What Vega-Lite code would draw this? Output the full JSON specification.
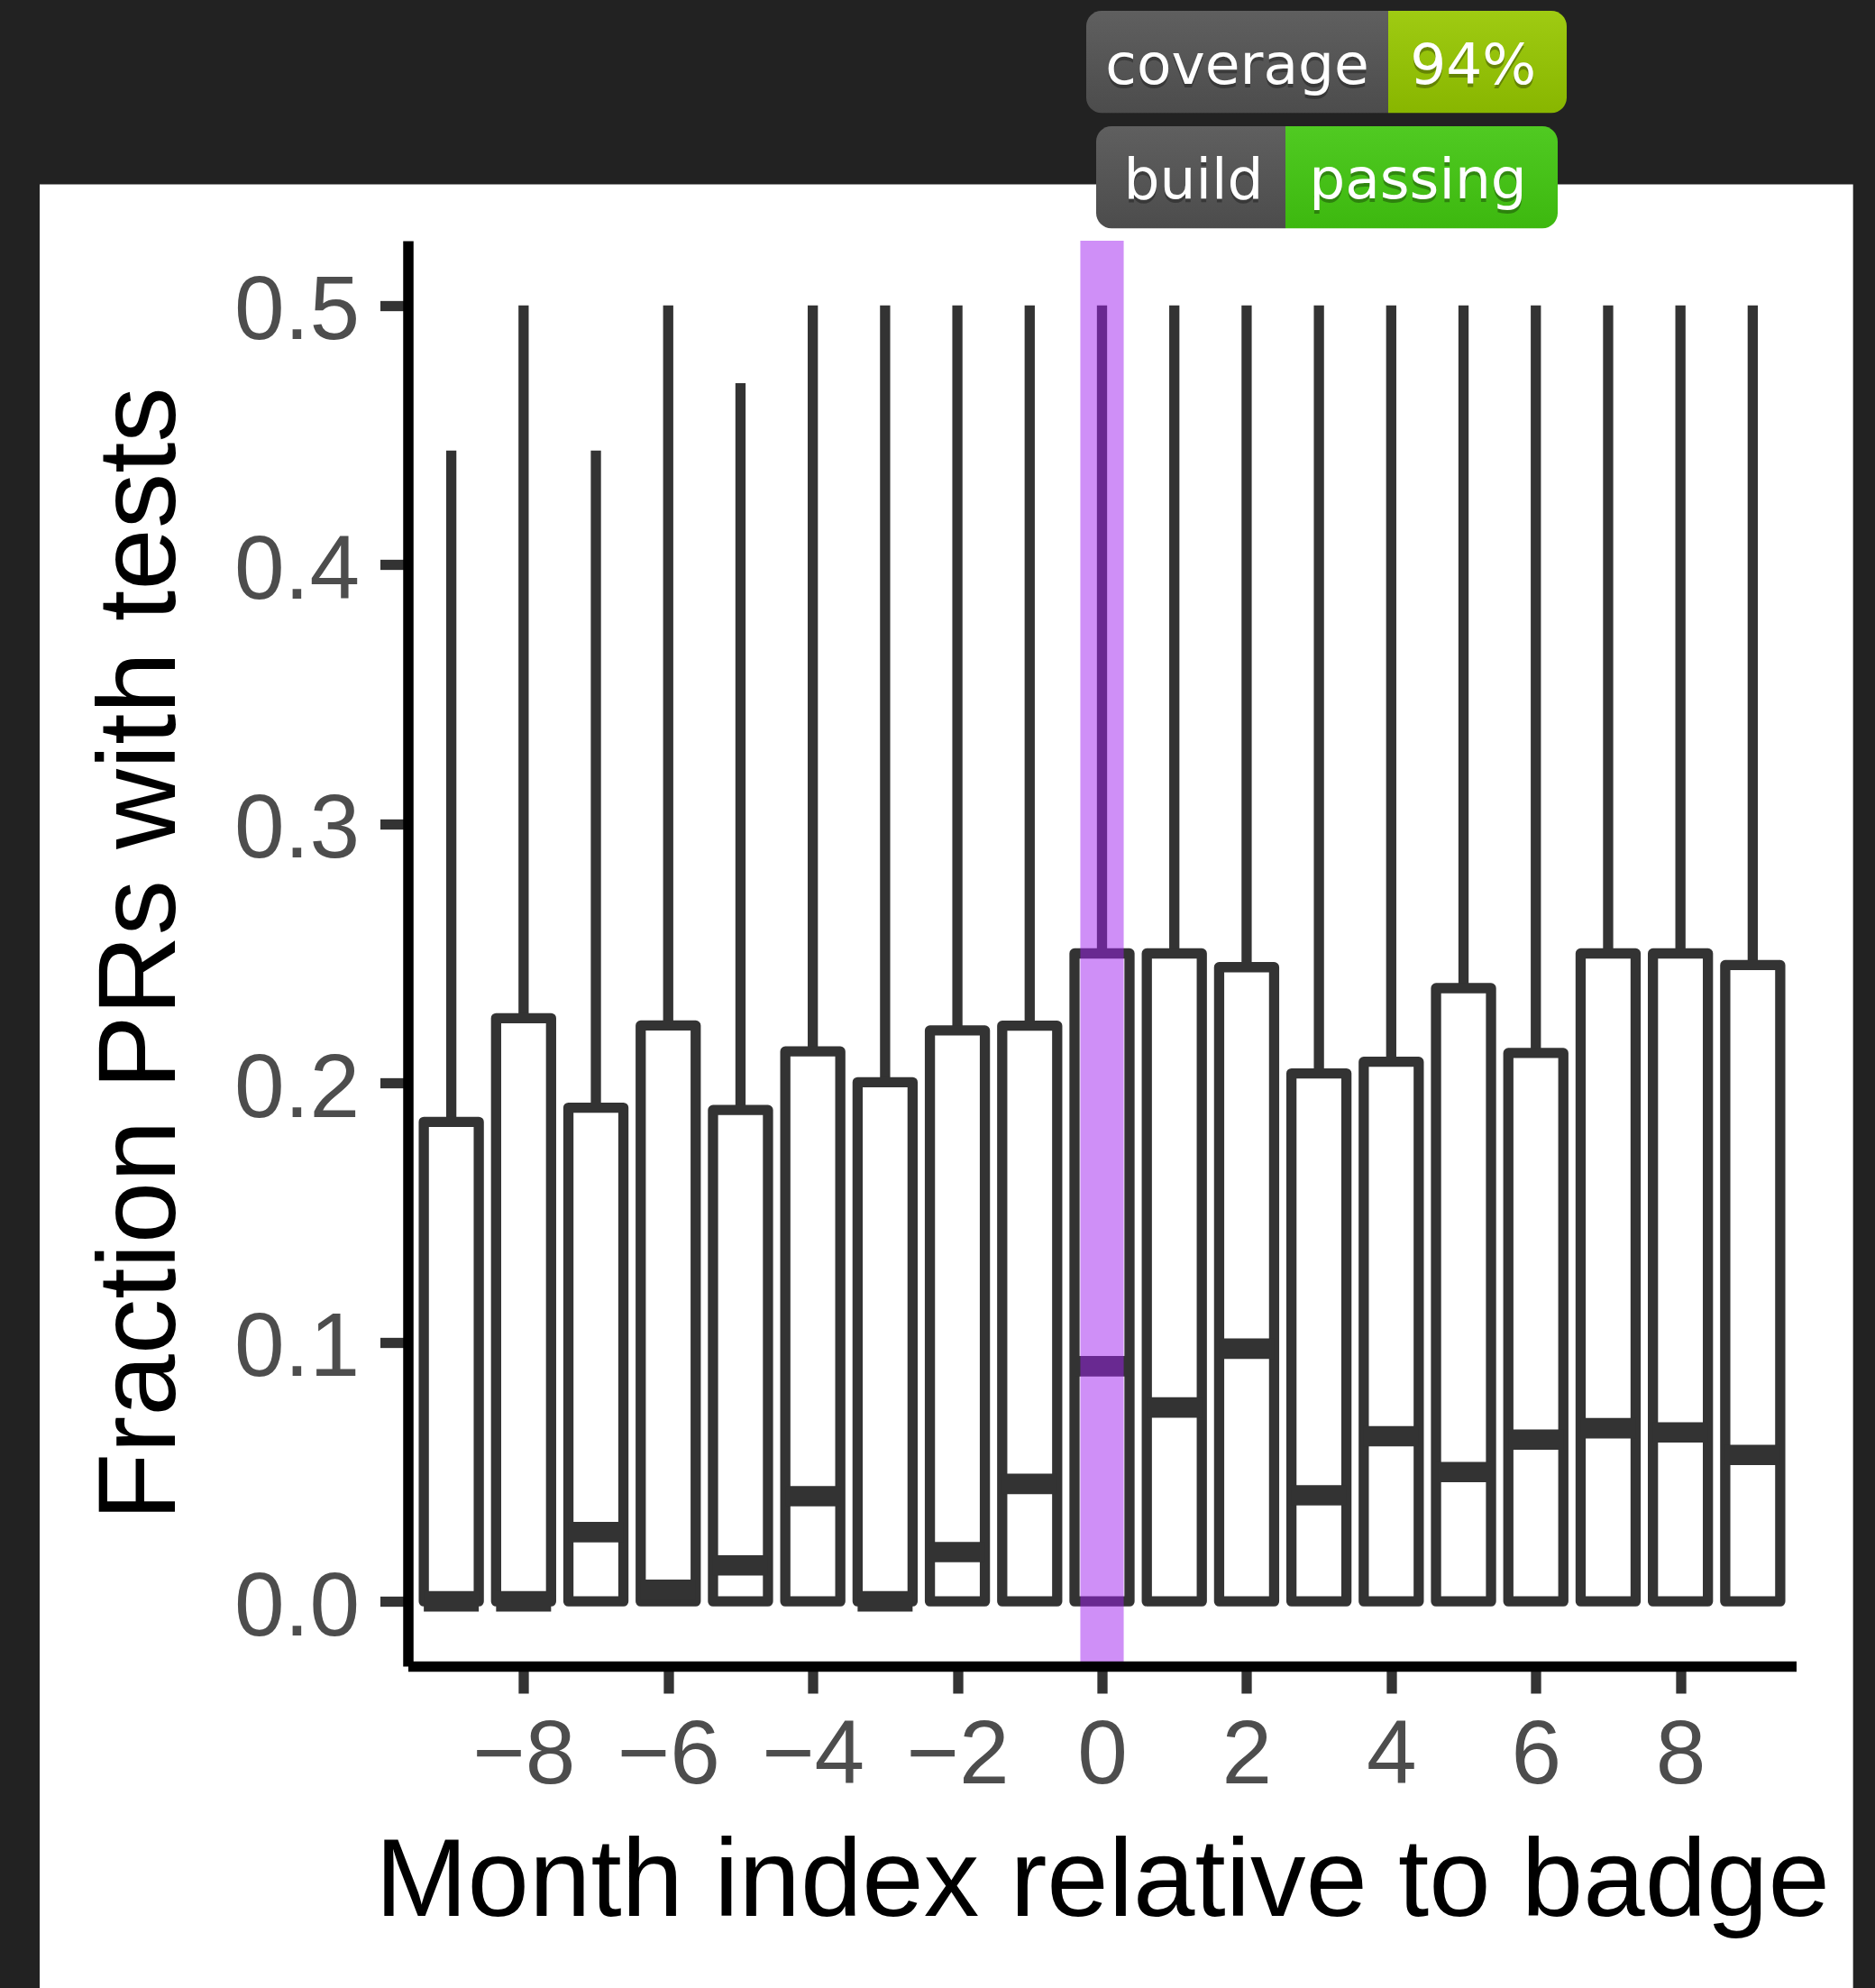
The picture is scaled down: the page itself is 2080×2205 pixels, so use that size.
{
  "$schema": "https://vega.github.io/schema/vega-lite/v6.json",
  "autosize": {"type": "none"},
  "width": 1540,
  "height": 1581,
  "padding": {"left": 452.5, "right": 87.5, "top": 267, "bottom": 357},
  "background": "#222222",
  "config": {"view": {"stroke": null}},
  "datasets": {
    "boxes": [
      {"month": -9, "lower": 0, "q1": 0, "median": 0, "q3": 0.185, "upper": 0.444},
      {"month": -8, "lower": 0, "q1": 0, "median": 0, "q3": 0.225, "upper": 0.5},
      {"month": -7, "lower": 0, "q1": 0, "median": 0.0267, "q3": 0.1905, "upper": 0.444},
      {"month": -6, "lower": 0, "q1": 0, "median": 0.0045, "q3": 0.2222, "upper": 0.5},
      {"month": -5, "lower": 0, "q1": 0, "median": 0.0139, "q3": 0.1896, "upper": 0.47},
      {"month": -4, "lower": 0, "q1": 0, "median": 0.0406, "q3": 0.2122, "upper": 0.5},
      {"month": -3, "lower": 0, "q1": 0, "median": 0, "q3": 0.2003, "upper": 0.5},
      {"month": -2, "lower": 0, "q1": 0, "median": 0.019, "q3": 0.2203, "upper": 0.5},
      {"month": -1, "lower": 0, "q1": 0, "median": 0.0453, "q3": 0.2221, "upper": 0.5},
      {"month": 0, "lower": 0, "q1": 0, "median": 0.0907, "q3": 0.25, "upper": 0.5},
      {"month": 1, "lower": 0, "q1": 0, "median": 0.0748, "q3": 0.25, "upper": 0.5},
      {"month": 2, "lower": 0, "q1": 0, "median": 0.0975, "q3": 0.2447, "upper": 0.5},
      {"month": 3, "lower": 0, "q1": 0, "median": 0.0409, "q3": 0.2037, "upper": 0.5},
      {"month": 4, "lower": 0, "q1": 0, "median": 0.0637, "q3": 0.2082, "upper": 0.5},
      {"month": 5, "lower": 0, "q1": 0, "median": 0.0499, "q3": 0.2366, "upper": 0.5},
      {"month": 6, "lower": 0, "q1": 0, "median": 0.0624, "q3": 0.2116, "upper": 0.5},
      {"month": 7, "lower": 0, "q1": 0, "median": 0.0668, "q3": 0.25, "upper": 0.5},
      {"month": 8, "lower": 0, "q1": 0, "median": 0.0652, "q3": 0.25, "upper": 0.5},
      {"month": 9, "lower": 0, "q1": 0, "median": 0.0565, "q3": 0.2455, "upper": 0.5}
    ],
    "one": [{}]
  },
  "layer": [
    {
      "data": {"name": "one"},
      "mark": {"type": "rect", "fill": "#FFFFFF", "opacity": 1},
      "encoding": {
        "x": {"datum": -14.693, "type": "quantitative", "scale": {"domain": [-9.6, 9.6], "nice": false, "zero": false, "padding": 0}, "title": "Month index relative to badge"},
        "x2": {"datum": 10.3875},
        "y": {"datum": 0.54673, "type": "quantitative", "scale": {"domain": [-0.025, 0.525], "nice": false, "zero": false, "padding": 0}, "title": "Fraction PRs with tests"},
        "y2": {"datum": -0.2}
      }
    },
    {
      "data": {"name": "boxes"},
      "mark": {"type": "rule", "stroke": "#333333", "strokeWidth": 11.3, "strokeCap": "butt"},
      "encoding": {
        "x": {"field": "month", "type": "quantitative", "scale": {"domain": [-9.6, 9.6], "nice": false, "zero": false, "padding": 0},
          "axis": {
            "title": "Month index relative to badge",
            "values": [-8, -6, -4, -2, 0, 2, 4, 6, 8],
            "format": "d",
            "grid": false,
            "domainColor": "#000000",
            "domainWidth": 11.5,
            "tickColor": "#333333",
            "tickWidth": 11.3,
            "tickSize": 30,
            "labelFont": "Liberation Sans",
            "labelFontSize": 100,
            "labelColor": "#4D4D4D",
            "labelPadding": 20,
            "labelFlush": false,
            "labelOverlap": false,
            "titleFont": "Liberation Sans",
            "titleFontSize": 123,
            "titleFontWeight": "normal",
            "titleColor": "#000000",
            "titlePadding": 30,
            "zindex": 1
          }},
        "y": {"field": "q3", "type": "quantitative", "scale": {"domain": [-0.025, 0.525], "nice": false, "zero": false, "padding": 0},
          "axis": {
            "title": "Fraction PRs with tests",
            "values": [0, 0.1, 0.2, 0.3, 0.4, 0.5],
            "format": ".1f",
            "grid": false,
            "domainColor": "#000000",
            "domainWidth": 11.5,
            "tickColor": "#333333",
            "tickWidth": 11.3,
            "tickSize": 31,
            "labelFont": "Liberation Sans",
            "labelFontSize": 100,
            "labelColor": "#4D4D4D",
            "labelPadding": 23,
            "labelOffset": 7,
            "labelFlush": false,
            "labelOverlap": false,
            "titleFont": "Liberation Sans",
            "titleFontSize": 123,
            "titleFontWeight": "normal",
            "titleColor": "#000000",
            "titlePadding": 40,
            "zindex": 1
          }},
        "y2": {"field": "upper"}
      }
    },
    {
      "data": {"name": "boxes"},
      "mark": {"type": "bar", "width": 61, "fill": "#FFFFFF", "stroke": "#333333", "strokeWidth": 11.3, "strokeJoin": "round", "opacity": 1},
      "encoding": {
        "x": {"field": "month", "type": "quantitative", "title": "Month index relative to badge"},
        "y": {"field": "q1", "type": "quantitative", "title": "Fraction PRs with tests"},
        "y2": {"field": "q3"}
      }
    },
    {
      "data": {"name": "boxes"},
      "mark": {"type": "tick", "orient": "horizontal", "size": 61, "thickness": 22.6, "color": "#333333", "opacity": 1},
      "encoding": {
        "x": {"field": "month", "type": "quantitative", "title": "Month index relative to badge"},
        "y": {"field": "median", "type": "quantitative", "title": "Fraction PRs with tests"}
      }
    },
    {
      "data": {"name": "one"},
      "mark": {"type": "rect", "fill": "#A020F0", "opacity": 0.5},
      "encoding": {
        "x": {"datum": -0.3, "type": "quantitative", "title": "Month index relative to badge"},
        "x2": {"datum": 0.3},
        "y": {"datum": 0.525, "type": "quantitative", "title": "Fraction PRs with tests"},
        "y2": {"datum": -0.025}
      }
    },
    {
      "data": {"name": "one"},
      "mark": {"type": "rect", "cornerRadiusTopLeft": 17, "cornerRadiusBottomLeft": 17, "opacity": 1,
        "fill": {"gradient": "linear", "x1": 0, "y1": 0, "x2": 0, "y2": 1, "stops": [{"offset": 0, "color": "#5F5F5F"}, {"offset": 1, "color": "#4C4C4C"}]}},
      "encoding": {
        "x": {"datum": -0.2182, "type": "quantitative", "title": "Month index relative to badge"},
        "x2": {"datum": 3.9584},
        "y": {"datum": 0.61371, "type": "quantitative", "title": "Fraction PRs with tests"},
        "y2": {"datum": 0.57429}
      }
    },
    {
      "data": {"name": "one"},
      "mark": {"type": "rect", "cornerRadiusTopRight": 17, "cornerRadiusBottomRight": 17, "opacity": 1,
        "fill": {"gradient": "linear", "x1": 0, "y1": 0, "x2": 0, "y2": 1, "stops": [{"offset": 0, "color": "#9FCB12"}, {"offset": 1, "color": "#88B600"}]}},
      "encoding": {
        "x": {"datum": 3.9584, "type": "quantitative", "title": "Month index relative to badge"},
        "x2": {"datum": 6.427},
        "y": {"datum": 0.61371, "type": "quantitative", "title": "Fraction PRs with tests"},
        "y2": {"datum": 0.57429}
      }
    },
    {
      "data": {"name": "one"},
      "mark": {"type": "rect", "cornerRadiusTopLeft": 17, "cornerRadiusBottomLeft": 17, "opacity": 1,
        "fill": {"gradient": "linear", "x1": 0, "y1": 0, "x2": 0, "y2": 1, "stops": [{"offset": 0, "color": "#5F5F5F"}, {"offset": 1, "color": "#4C4C4C"}]}},
      "encoding": {
        "x": {"datum": -0.081, "type": "quantitative", "title": "Month index relative to badge"},
        "x2": {"datum": 2.5371},
        "y": {"datum": 0.56918, "type": "quantitative", "title": "Fraction PRs with tests"},
        "y2": {"datum": 0.52976}
      }
    },
    {
      "data": {"name": "one"},
      "mark": {"type": "rect", "cornerRadiusTopRight": 17, "cornerRadiusBottomRight": 17, "opacity": 1,
        "fill": {"gradient": "linear", "x1": 0, "y1": 0, "x2": 0, "y2": 1, "stops": [{"offset": 0, "color": "#50CA22"}, {"offset": 1, "color": "#3DB80F"}]}},
      "encoding": {
        "x": {"datum": 2.5371, "type": "quantitative", "title": "Month index relative to badge"},
        "x2": {"datum": 6.3023},
        "y": {"datum": 0.56918, "type": "quantitative", "title": "Fraction PRs with tests"},
        "y2": {"datum": 0.52976}
      }
    },
    {
      "data": {"name": "one"},
      "mark": {"type": "text", "text": "coverage", "font": "DejaVu Sans", "fontSize": 63, "align": "center", "baseline": "alphabetic", "fill": "#010101", "opacity": 0.3, "dy": 4},
      "encoding": {
        "x": {"datum": 1.8701, "type": "quantitative", "title": "Month index relative to badge"},
        "y": {"datum": 0.58553, "type": "quantitative", "title": "Fraction PRs with tests"}
      }
    },
    {
      "data": {"name": "one"},
      "mark": {"type": "text", "text": "coverage", "font": "DejaVu Sans", "fontSize": 63, "align": "center", "baseline": "alphabetic", "fill": "#FFFFFF", "opacity": 1},
      "encoding": {
        "x": {"datum": 1.8701, "type": "quantitative", "title": "Month index relative to badge"},
        "y": {"datum": 0.58553, "type": "quantitative", "title": "Fraction PRs with tests"}
      }
    },
    {
      "data": {"name": "one"},
      "mark": {"type": "text", "text": "94%", "font": "DejaVu Sans", "fontSize": 63, "align": "center", "baseline": "alphabetic", "fill": "#010101", "opacity": 0.3, "dy": 4},
      "encoding": {
        "x": {"datum": 5.1325, "type": "quantitative", "title": "Month index relative to badge"},
        "y": {"datum": 0.58553, "type": "quantitative", "title": "Fraction PRs with tests"}
      }
    },
    {
      "data": {"name": "one"},
      "mark": {"type": "text", "text": "94%", "font": "DejaVu Sans", "fontSize": 63, "align": "center", "baseline": "alphabetic", "fill": "#FFFFFF", "opacity": 1},
      "encoding": {
        "x": {"datum": 5.1325, "type": "quantitative", "title": "Month index relative to badge"},
        "y": {"datum": 0.58553, "type": "quantitative", "title": "Fraction PRs with tests"}
      }
    },
    {
      "data": {"name": "one"},
      "mark": {"type": "text", "text": "build", "font": "DejaVu Sans", "fontSize": 63, "align": "center", "baseline": "alphabetic", "fill": "#010101", "opacity": 0.3, "dy": 4},
      "encoding": {
        "x": {"datum": 1.2655, "type": "quantitative", "title": "Month index relative to badge"},
        "y": {"datum": 0.54135, "type": "quantitative", "title": "Fraction PRs with tests"}
      }
    },
    {
      "data": {"name": "one"},
      "mark": {"type": "text", "text": "build", "font": "DejaVu Sans", "fontSize": 63, "align": "center", "baseline": "alphabetic", "fill": "#FFFFFF", "opacity": 1},
      "encoding": {
        "x": {"datum": 1.2655, "type": "quantitative", "title": "Month index relative to badge"},
        "y": {"datum": 0.54135, "type": "quantitative", "title": "Fraction PRs with tests"}
      }
    },
    {
      "data": {"name": "one"},
      "mark": {"type": "text", "text": "passing", "font": "DejaVu Sans", "fontSize": 63, "align": "center", "baseline": "alphabetic", "fill": "#010101", "opacity": 0.3, "dy": 4},
      "encoding": {
        "x": {"datum": 4.3699, "type": "quantitative", "title": "Month index relative to badge"},
        "y": {"datum": 0.54135, "type": "quantitative", "title": "Fraction PRs with tests"}
      }
    },
    {
      "data": {"name": "one"},
      "mark": {"type": "text", "text": "passing", "font": "DejaVu Sans", "fontSize": 63, "align": "center", "baseline": "alphabetic", "fill": "#FFFFFF", "opacity": 1},
      "encoding": {
        "x": {"datum": 4.3699, "type": "quantitative", "title": "Month index relative to badge"},
        "y": {"datum": 0.54135, "type": "quantitative", "title": "Fraction PRs with tests"}
      }
    }
  ]
}
